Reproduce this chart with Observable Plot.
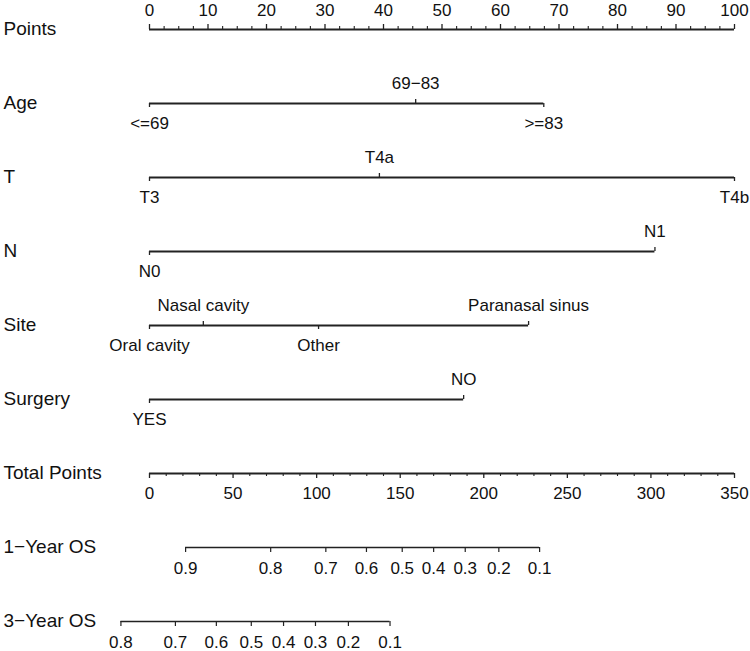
<!DOCTYPE html>
<html>
<head>
<meta charset="utf-8">
<script src="https://cdn.jsdelivr.net/npm/d3@7"></script>
<script src="https://cdn.jsdelivr.net/npm/@observablehq/plot@0.6"></script>
<style>
  html, body { margin: 0; padding: 0; background: #fff; }
  #chart svg { display: block; }
</style>
</head>
<body>
<div id="chart"></div>
<script>
// Row names of the nomogram
const rows = ["Points", "Age", "T", "N", "Site", "Surgery", "Total Points", "1\u2212Year OS", "3\u2212Year OS"];

// Points scale
const pointsTicks = [0, 10, 20, 30, 40, 50, 60, 70, 80, 90, 100];

// Predictors: levels and their points
const ageLevels = ["<=69", "69\u221283", ">=83"];
const agePoints = [0, 45.5, 67.4];
const tLevels = ["T3", "T4a", "T4b"];
const tPoints = [0, 39.3, 100];
const nLevels = ["N0", "N1"];
const nPoints = [0, 86.4];
const siteLevels = ["Oral cavity", "Nasal cavity", "Other", "Paranasal sinus"];
const sitePoints = [0, 9.2, 28.9, 64.8];
const surgeryLevels = ["YES", "NO"];
const surgeryPoints = [0, 53.7];

// Total points scale
const totalTicks = [0, 50, 100, 150, 200, 250, 300, 350];
const totalMax = 350;

// Survival scales (total points at which each probability is reached)
const os1Labels = ["0.9", "0.8", "0.7", "0.6", "0.5", "0.4", "0.3", "0.2", "0.1"];
const os1Total = [21.6, 72.5, 105.5, 129.8, 151.2, 170.0, 188.9, 209.0, 233.4];
const os3Labels = ["0.8", "0.7", "0.6", "0.5", "0.4", "0.3", "0.2", "0.1"];
const os3Total = [-17.1, 15.5, 40.0, 60.9, 80.2, 99.3, 119.0, 143.9];

// ---- build tables ----
const factors = [
  {row: "Age", levels: ageLevels, points: agePoints},
  {row: "T", levels: tLevels, points: tPoints},
  {row: "N", levels: nLevels, points: nPoints},
  {row: "Site", levels: siteLevels, points: sitePoints},
  {row: "Surgery", levels: surgeryLevels, points: surgeryPoints}
];
const factorTable = factors.flatMap(f => {
  const order = d3.range(f.levels.length).sort((a, b) => f.points[a] - f.points[b]);
  return order.map((k, i) => ({row: f.row, label: f.levels[k], x: f.points[k], up: i % 2 === 1}));
});
const factorSegs = factors.map(f => ({row: f.row, x1: d3.min(f.points), x2: d3.max(f.points)}));

const toPts = tp => tp * 100 / totalMax;
const totalMinor = d3.range(0, totalMax + 1, 10).filter(v => v % 50 !== 0);
const pointsMinor = d3.range(0, 100.01, 2.5).filter(v => v % 10 !== 0);

const os1 = os1Labels.map((l, i) => ({row: rows[7], label: l, x: toPts(os1Total[i])}));
const os3 = os3Labels.map((l, i) => ({row: rows[8], label: l, x: toPts(os3Total[i])}));
const survSegs = [
  {row: rows[7], x1: d3.min(os1, d => d.x), x2: d3.max(os1, d => d.x)},
  {row: rows[8], x1: d3.min(os3, d => d.x), x2: d3.max(os3, d => d.x)}
];

const ink = "#222";
const lab = 17;

const chart = Plot.plot({
  width: 750,
  height: 651,
  marginLeft: 149,
  marginRight: 16,
  marginTop: 0,
  marginBottom: 0,
  x: {domain: [0, 100], range: [149, 734], axis: null},
  y: {type: "band", domain: rows, range: [28.3, 621.9], paddingInner: 1, paddingOuter: 0, align: 0.5, axis: null},
  style: {fontFamily: "'Liberation Sans', Arial, sans-serif", color: "#111", background: "#fff"},
  marks: [
    // row labels
    Plot.text(rows, {y: d => d, frameAnchor: "left", dx: -146, textAnchor: "start", fontSize: 19, dy: -1, fill: "#111"}),

    // Points axis
    Plot.ruleY(["Points"], {y: d => d, x1: 0, x2: 100, stroke: ink, strokeWidth: 2}),
    Plot.tickX(pointsTicks, {x: d => d, y: () => "Points", insetTop: -5, stroke: ink, strokeWidth: 1.3}),
    Plot.tickX(pointsMinor, {x: d => d, y: () => "Points", insetTop: -3, stroke: ink, strokeWidth: 1.1}),
    Plot.text(pointsTicks, {x: d => d, y: () => "Points", text: d => String(d), dy: -19, fontSize: lab, fill: "#111"}),

    // predictor lines
    Plot.ruleY(factorSegs, {y: "row", x1: "x1", x2: "x2", stroke: ink, strokeWidth: 1.8}),
    Plot.tickX(factorTable.filter(d => d.up), {x: "x", y: "row", insetTop: -4, stroke: ink, strokeWidth: 1.3}),
    Plot.tickX(factorTable.filter(d => !d.up), {x: "x", y: "row", insetBottom: -4, stroke: ink, strokeWidth: 1.3}),
    Plot.text(factorTable.filter(d => d.up), {x: "x", y: "row", text: "label", dy: -20, fontSize: lab, fill: "#111"}),
    Plot.text(factorTable.filter(d => !d.up), {x: "x", y: "row", text: "label", dy: 20, fontSize: lab, fill: "#111"}),

    // Total points axis
    Plot.ruleY(["Total Points"], {y: d => d, x1: 0, x2: 100, stroke: ink, strokeWidth: 2}),
    Plot.tickX(totalTicks, {x: d => toPts(d), y: () => "Total Points", insetBottom: -5, stroke: ink, strokeWidth: 1.3}),
    Plot.tickX(totalMinor, {x: d => toPts(d), y: () => "Total Points", insetBottom: -3, stroke: ink, strokeWidth: 1.1}),
    Plot.text(totalTicks, {x: d => toPts(d), y: () => "Total Points", text: d => String(d), dy: 20, fontSize: lab, fill: "#111"}),

    // survival axes
    Plot.ruleY(survSegs, {y: "row", x1: "x1", x2: "x2", stroke: ink, strokeWidth: 1.6}),
    Plot.tickX([...os1, ...os3], {x: "x", y: "row", insetBottom: -5, stroke: ink, strokeWidth: 1.2}),
    Plot.text([...os1, ...os3], {x: "x", y: "row", text: "label", dy: 21, fontSize: lab, fill: "#111"})
  ]
});
document.getElementById("chart").appendChild(chart);
</script>
</body>
</html>
